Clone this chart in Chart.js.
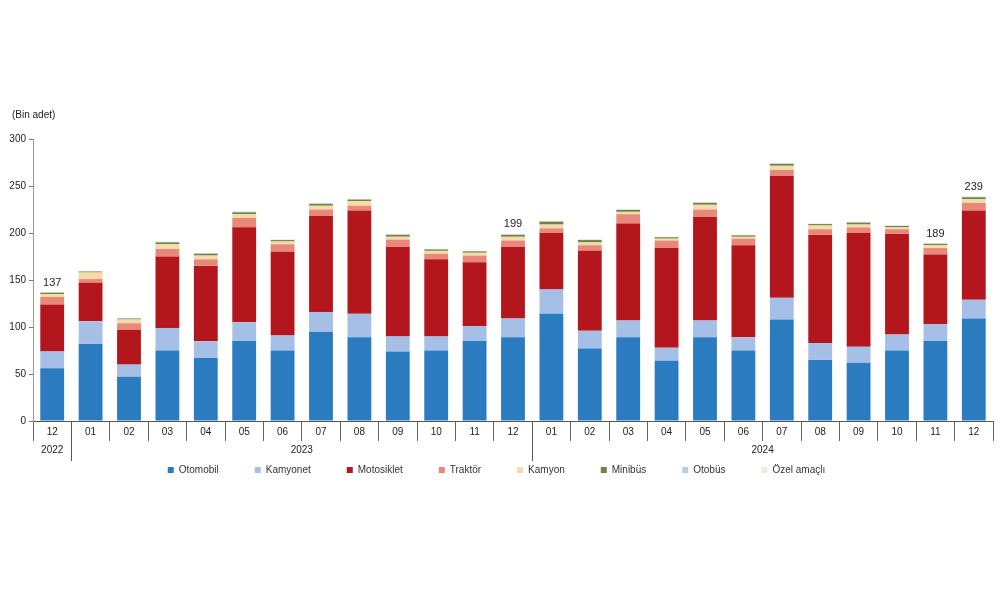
<!DOCTYPE html>
<html>
<head>
<meta charset="utf-8">
<script src="https://cdn.jsdelivr.net/npm/chart.js@4"></script>
<style>
  html, body { margin: 0; padding: 0; background: #fff; }
  #wrap { width: 1000px; height: 593px; }
</style>
</head>
<body>
<div id="wrap"><canvas id="c" width="1000" height="593"></canvas></div>
<script>
const categories = ['12','01','02','03','04','05','06','07','08','09','10','11','12','01','02','03','04','05','06','07','08','09','10','11','12'];
const yearGroups = ['2022','2023','2024'];
const yearStart = [0, 1, 13];
const yearEnd = [0, 12, 24];

const otomobil   = [56,82,47,75,67,85,75,95,89,74,75,85,89,114,77,89,64,89,75,108,65,62,75,85,109];
const kamyonet   = [18,24,13,24,18,20,16,21,25,16,15,16,20,26,19,18,14,18,14,23,18,17,17,18,20];
const motosiklet = [50,41,37,76,80,101,89,102,110,95,82,68,76,60,85,103,106,110,98,130,115,121,107,74,95];
const traktor    = [8,4,7,8,7,10,8,7,5,8,6,7,7,5,6,10,8,8,7,6,6,6,5,7,8];
const kamyon     = [3,7,4,5,4,4,3,4,5,3,3,3,4,4,3,2.5,2,5,2,4.5,4,3,2,3,4];
const minibus    = [1.5,1,1,2,2,2,1.5,2,1.5,2,1.5,1.5,2,3,2.5,2,1.5,2,1.5,2,1.5,2,1.5,1.5,2];
const otobus     = [0.3,0.3,0.3,0.6,0.3,0.5,0.3,0.5,0.5,0.5,0.3,0.3,0.6,0.6,0.4,0.5,0.3,0.5,0.3,0.6,0.3,0.5,0.3,0.3,0.5];
const ozelAmacli = [0.2,0.2,0.2,0.4,0.2,0.5,0.2,0.5,0.5,0.5,0.2,0.2,0.4,0.4,0.3,0.5,0.2,0.5,0.2,0.4,0.2,0.5,0.2,0.2,0.5];

const totalLabels = ['137',null,null,null,null,null,null,null,null,null,null,null,'199',null,null,null,null,null,null,null,null,null,null,'189','239'];
const yTicks = [0,50,100,150,200,250,300];

const seriesNames = ['Otomobil','Kamyonet','Motosiklet','Traktör','Kamyon','Minibüs','Otobüs','Özel amaçlı'];
const seriesData = [otomobil,kamyonet,motosiklet,traktor,kamyon,minibus,otobus,ozelAmacli];
const seriesColors = ['#2b7bc0','#a6bfe6','#b3161c','#e8887a','#f4dba8','#6c8543','#b9cbdc','#ecebdc'];

const FONT = 'Liberation Sans, Arial, sans-serif';

const extras = {
  id: 'extras',
  afterLayout(chart) {
    const lg = chart.legend;
    if (lg) { lg.top -= 12; lg.bottom -= 12; }
  },
  afterDraw(chart) {
    const ctx = chart.ctx;
    const x = chart.scales.x;
    const area = chart.chartArea;
    const half = (x.getPixelForValue(1) - x.getPixelForValue(0)) / 2;
    ctx.save();
    // year separators
    ctx.strokeStyle = '#555';
    ctx.lineWidth = 1;
    for (let g = 1; g < yearGroups.length; g++) {
      const px = Math.round(x.getPixelForValue(yearStart[g]) - half) + 0.5;
      ctx.beginPath();
      ctx.moveTo(px, area.bottom);
      ctx.lineTo(px, area.bottom + 40);
      ctx.stroke();
    }
    // year labels
    ctx.fillStyle = '#222';
    ctx.font = '10px ' + FONT;
    ctx.textAlign = 'center';
    ctx.textBaseline = 'middle';
    for (let g = 0; g < yearGroups.length; g++) {
      const cx = (x.getPixelForValue(yearStart[g]) + x.getPixelForValue(yearEnd[g])) / 2;
      ctx.fillText(yearGroups[g], cx, area.bottom + 29);
    }
    // total labels
    const topMeta = chart.getDatasetMeta(seriesData.length - 1);
    ctx.font = '11px ' + FONT;
    ctx.textBaseline = 'bottom';
    totalLabels.forEach((t, i) => {
      if (!t) return;
      const el = topMeta.data[i];
      ctx.fillText(t, el.x, el.y - 4);
    });
    // y title
    ctx.font = '10px ' + FONT;
    ctx.textAlign = 'left';
    ctx.textBaseline = 'middle';
    ctx.fillText('(Bin adet)', 12, area.top - 24);
    ctx.restore();
  }
};

new Chart(document.getElementById('c'), {
  type: 'bar',
  data: {
    labels: categories,
    datasets: seriesNames.map((n, i) => ({
      label: n,
      data: seriesData[i],
      backgroundColor: seriesColors[i],
      borderWidth: 0,
      categoryPercentage: 1,
      barPercentage: 0.62
    }))
  },
  options: {
    responsive: false,
    animation: false,
    devicePixelRatio: 1,
    layout: { padding: { top: 139, left: 0, right: 7, bottom: 96 } },
    plugins: {
      legend: {
        position: 'bottom',
        labels: {
          boxWidth: 6, boxHeight: 6, padding: 36,
          font: { family: FONT, size: 10 }, color: '#333'
        }
      },
      tooltip: { enabled: false }
    },
    scales: {
      x: {
        stacked: true,
        grid: { offset: true, drawOnChartArea: false, drawTicks: true, tickLength: 20, color: '#666' },
        border: { display: true, color: '#555' },
        ticks: { font: { family: FONT, size: 10 }, color: '#222', padding: -15, maxRotation: 0, autoSkip: false },
        afterFit(s) { s.height = 20; }
      },
      y: {
        stacked: true,
        min: 0, max: 300,
        afterBuildTicks(s) { s.ticks = yTicks.map(v => ({ value: v })); },
        grid: { drawOnChartArea: false, drawTicks: true, tickLength: 4, color: '#777' },
        border: { display: true, color: '#999' },
        ticks: { font: { family: FONT, size: 10 }, color: '#222', padding: 3 },
        afterFit(s) { s.width = 33; }
      }
    }
  },
  plugins: [extras]
});
</script>
</body>
</html>
